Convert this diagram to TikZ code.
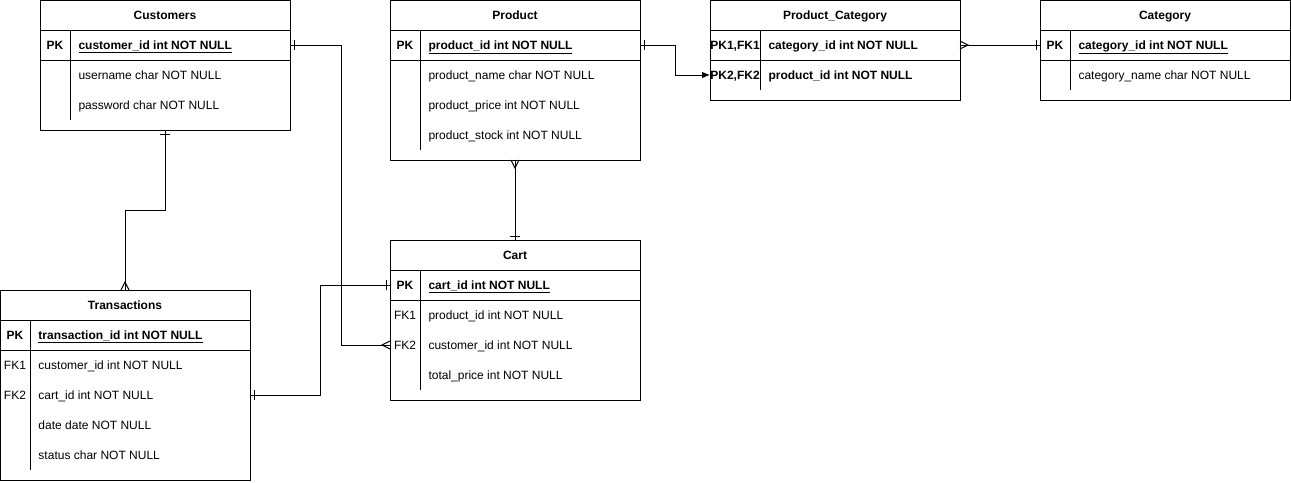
\documentclass[tikz,border=0pt]{standalone}
\usepackage{fontspec}
\setmainfont{Liberation Sans}
\usepackage{tikz}
\usetikzlibrary{arrows.meta}

\begin{document}
\begin{tikzpicture}[x=0.75pt,y=-0.75pt,line width=0.75pt,
    txt/.style={inner sep=0pt,text height=6.5pt,text depth=0pt,font=\fontsize{9}{11}\selectfont},
    tbl/.style={draw,anchor=north west,minimum width=187.5pt,inner sep=0pt,outer sep=0pt},
    head/.style={txt,font=\fontsize{9}{11}\selectfont\bfseries},
    key/.style={txt},
    bkey/.style={txt,font=\fontsize{9}{11}\selectfont\bfseries},
    fld/.style={txt,anchor=west},
    pk/.style={fld,font=\fontsize{9}{11}\selectfont\bfseries},
    one/.pic={\draw (4,-5) -- (4,5);},
    many/.pic={\draw (0,-4) -- (8,0) -- (0,4);}]
                \useasboundingbox (0,0) rectangle (1291,482);

                % Customers
                \node[tbl,minimum height=97.5pt] (cust) at (40,0) {};
                \node[head] at (165,15) {Customers};
                \draw (40,30) -- (290,30) (40,60) -- (290,60) (70,30) -- (70,120);
                \node[bkey] at (55,45) {PK};
                \node[pk] (cust-pk) at (78,45) {\underline{customer\_id int NOT NULL}};
                \foreach \y/\t in {75/username char NOT NULL,105/password char NOT NULL}
                    \node[fld] at (78,\y) {\t};

                % Product
                \node[tbl,minimum height=120pt] (prod) at (390,0) {};
                \node[head] at (515,15) {Product};
                \draw (390,30) -- (640,30) (390,60) -- (640,60) (420,30) -- (420,150);
                \node[bkey] at (405,45) {PK};
                \node[pk] (prod-pk) at (428,45) {\underline{product\_id int NOT NULL}};
                \foreach \y/\t in {75/product\_name char NOT NULL,105/product\_price int NOT NULL,135/product\_stock int NOT NULL}
                    \node[fld] at (428,\y) {\t};

                % Product_Category
                \node[tbl,minimum height=75pt] (pc) at (710,0) {};
                \node[head] at (835,15) {Product\_Category};
                \draw (710,30) -- (960,30) (710,60) -- (960,60) (760,30) -- (760,90);
                \node[bkey] at (735,45) {PK1,FK1};
                \node[pk] (pc-pk1) at (768,45) {category\_id int NOT NULL};
                \node[bkey] at (735,75) {PK2,FK2};
                \node[pk] (pc-pk2) at (768,75) {product\_id int NOT NULL};

                % Category
                \node[tbl,minimum height=75pt] (cat) at (1040,0) {};
                \node[head] at (1165,15) {Category};
                \draw (1040,30) -- (1290,30) (1040,60) -- (1290,60) (1070,30) -- (1070,90);
                \node[bkey] at (1055,45) {PK};
                \node[pk] (cat-pk) at (1078,45) {\underline{category\_id int NOT NULL}};
                \node[fld] at (1078,75) {category\_name char NOT NULL};

                % Cart
                \node[tbl,minimum height=120pt] (cart) at (390,240) {};
                \node[head] at (515,255) {Cart};
                \draw (390,270) -- (640,270) (390,300) -- (640,300) (420,270) -- (420,390);
                \node[bkey] at (405,285) {PK};
                \node[pk] (cart-pk) at (428,285) {\underline{cart\_id int NOT NULL}};
                \node[key] at (405,315) {FK1};
                \node[fld] (cart-fk1) at (428,315) {product\_id int NOT NULL};
                \node[key] at (405,345) {FK2};
                \node[fld] (cart-fk2) at (428,345) {customer\_id int NOT NULL};
                \node[fld] at (428,375) {total\_price int NOT NULL};

                % Transactions
                \node[tbl,minimum height=142.5pt] (trans) at (0,290) {};
                \node[head] at (125,305) {Transactions};
                \draw (0,320) -- (250,320) (0,350) -- (250,350) (30,320) -- (30,470);
                \node[bkey] at (15,335) {PK};
                \node[pk] (trans-pk) at (38,335) {\underline{transaction\_id int NOT NULL}};
                \node[key] at (15,365) {FK1};
                \node[fld] (trans-fk1) at (38,365) {customer\_id int NOT NULL};
                \node[key] at (15,395) {FK2};
                \node[fld] (trans-fk2) at (38,395) {cart\_id int NOT NULL};
                \foreach \y/\t in {425/date date NOT NULL,455/status char NOT NULL}
                    \node[fld] at (38,\y) {\t};

                % relations
                \draw (cust.east |- cust-pk) -- ++(51,0) |- (cart.west |- cart-fk2);
                \draw[-{Latex[length=6pt,width=5pt]}] (prod.east |- prod-pk) -- ++(35,0) |- (pc.west |- pc-pk2);
                \draw (pc.east |- pc-pk1) -- (cat.west |- cat-pk);
                \draw (prod.south) -- (cart.north);
                \draw (cust.south) -- ++(0,80) -| (trans.north);
                \draw (trans.east |- trans-fk2) -- ++(70,0) |- (cart.west |- cart-pk);

                \pic at (cust.east |- cust-pk) {one};
                \pic[rotate=180] at (cart.west |- cart-fk2) {many};
                \pic at (prod.east |- prod-pk) {one};
                \pic at (pc.east |- pc-pk1) {many};
                \pic[rotate=180] at (cat.west |- cat-pk) {one};
                \pic[rotate=-90] at (prod.south) {many};
                \pic[rotate=90] at (cart.north) {one};
                \pic[rotate=-90] at (cust.south) {one};
                \pic[rotate=90] at (trans.north) {many};
                \pic at (trans.east |- trans-fk2) {one};
                \pic[rotate=180] at (cart.west |- cart-pk) {one};
            \end{tikzpicture}
\end{document}
